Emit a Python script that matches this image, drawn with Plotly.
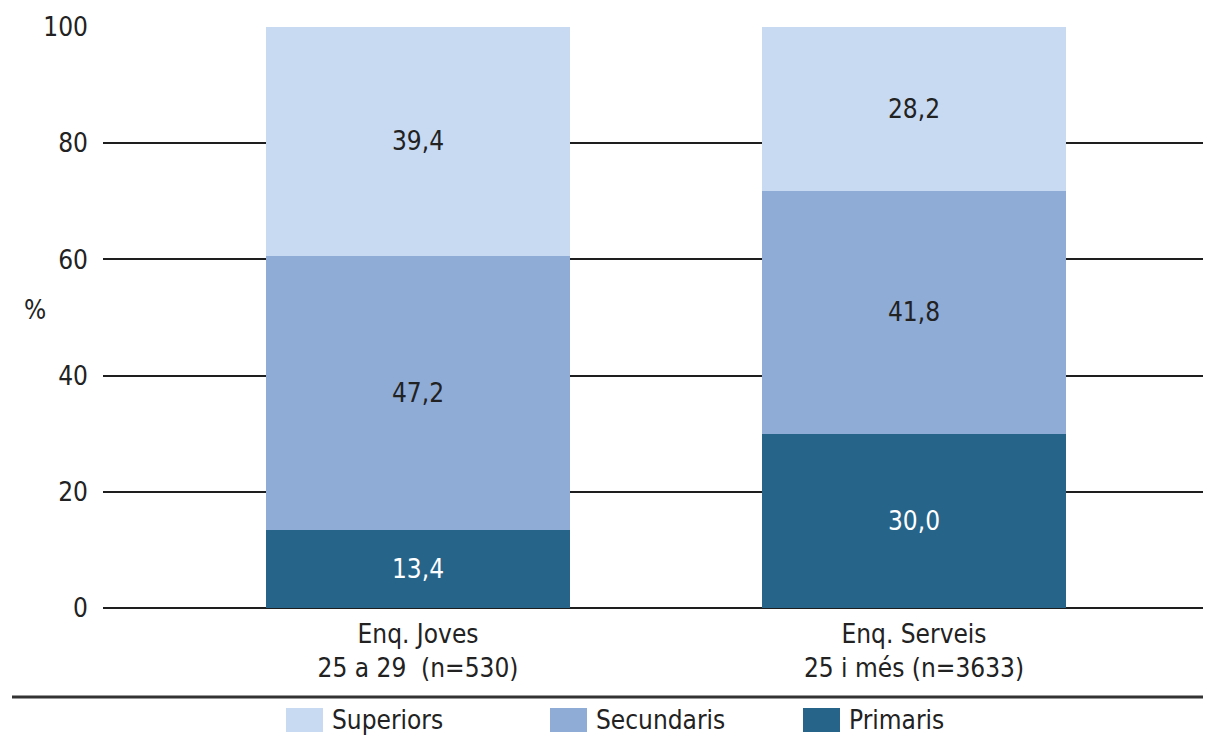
import plotly.graph_objects as go

categories = ["Enq. Joves<br>25 a 29  (n=530)", "Enq. Serveis<br>25 i més (n=3633)"]
primaris = [13.4, 30.0]
secundaris = [47.2, 41.8]
superiors = [39.4, 28.2]
y_ticks = [0, 20, 40, 60, 80, 100]

FONT = "DejaVu Sans Condensed, Liberation Sans Narrow, sans-serif"
FS = 26
TXT = "#222222"
x_pos = [0, 1]

# figure geometry (page body has 8px margin)
W, H = 1195, 729
L, T, B = 95, 19, 129
PW, PH = W - L, H - T - B


def xp(px):
    return (px - 8 - L) / PW


def yp(py):
    return (H - B - (py - 8)) / PH


fig = go.Figure()
series = [
    ("Primaris", primaris, "#27648A", "white"),
    ("Secundaris", secundaris, "#8FACD7", TXT),
    ("Superiors", superiors, "#C8DAF1", TXT),
]
for name, vals, color, tcol in series:
    fig.add_trace(go.Bar(
        x=x_pos, y=vals, name=name, width=0.611,
        marker=dict(color=color, line=dict(width=0)),
        texttemplate="%{y:.1f}", textposition="inside",
        insidetextanchor="middle", textangle=0,
        textfont=dict(family=FONT, size=FS, color=tcol),
        hoverinfo="skip", showlegend=False,
    ))

# custom legend (large swatches like the reference)
legend_items = [("Superiors", "#C8DAF1", 286), ("Secundaris", "#8FACD7", 550), ("Primaris", "#27648A", 803)]
shapes = [dict(type="line", xref="paper", yref="paper",
               x0=xp(12), x1=1.0, y0=yp(697), y1=yp(697),
               line=dict(color="#333333", width=3))]
annotations = [dict(text="%", xref="paper", yref="paper",
                    x=xp(22), y=yp(310), showarrow=False,
                    font=dict(family=FONT, size=FS, color=TXT))]
for name, color, x0 in legend_items:
    shapes.append(dict(type="rect", xref="paper", yref="paper",
                       x0=xp(x0), x1=xp(x0 + 37), y0=yp(732), y1=yp(708),
                       fillcolor=color, line=dict(width=0)))
    annotations.append(dict(text=name, xref="paper", yref="paper",
                            x=xp(x0 + 44), y=yp(720), xanchor="left", yanchor="middle",
                            showarrow=False,
                            font=dict(family=FONT, size=FS, color=TXT)))

fig.update_layout(
    barmode="stack",
    width=W, height=H,
    separators=",.",
    margin=dict(l=L, r=0, t=T, b=B, pad=0),
    paper_bgcolor="white", plot_bgcolor="white",
    font=dict(family=FONT, size=FS, color=TXT),
    showlegend=False,
    xaxis=dict(range=[-315 / 496, (PW - 315) / 496], tickmode="array", tickvals=x_pos,
               ticktext=categories, showgrid=False, zeroline=False,
               showline=False, ticks="", ticklabelstandoff=8,
               tickfont=dict(family=FONT, size=FS, color=TXT)),
    yaxis=dict(range=[0, 100], tickmode="array", tickvals=y_ticks,
               showgrid=True, gridcolor="#1e1e1e", gridwidth=1.5,
               zeroline=True, zerolinecolor="#1e1e1e", zerolinewidth=1.5,
               showline=False, ticks="", ticklabelstandoff=14,
               tickfont=dict(family=FONT, size=FS, color=TXT)),
    annotations=annotations,
    shapes=shapes,
)

fig.write_html("out.html")
